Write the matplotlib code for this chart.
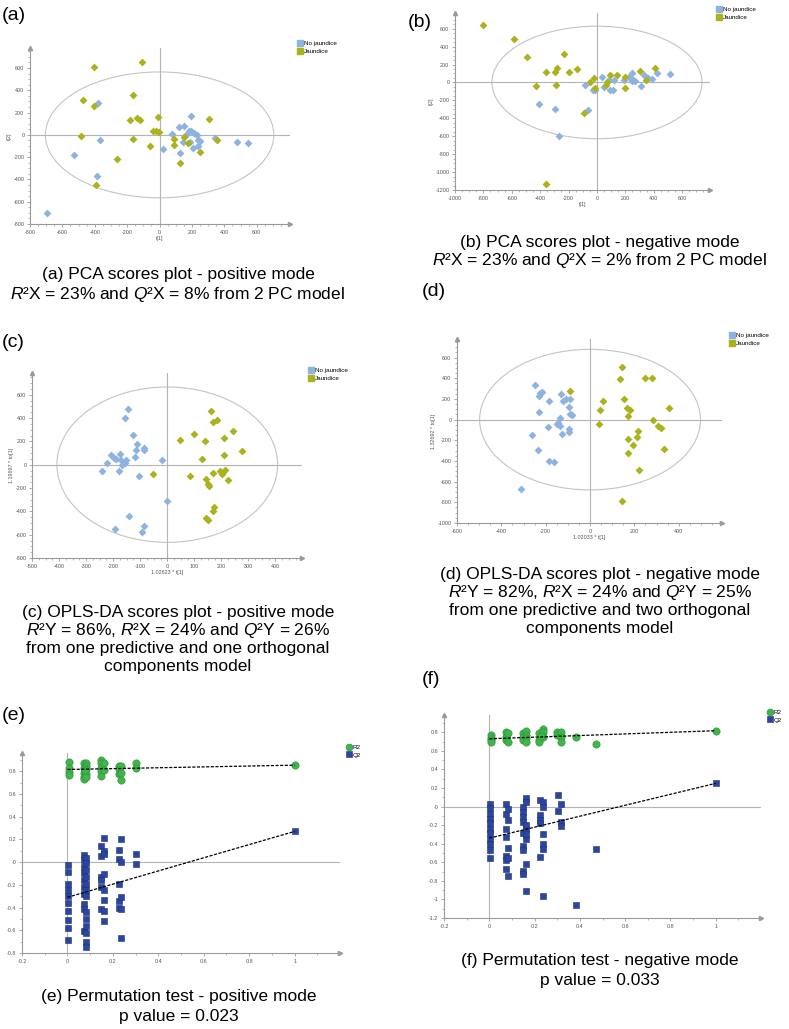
import numpy as np
import matplotlib
matplotlib.use("Agg")
import matplotlib.pyplot as plt
from matplotlib.patches import Ellipse
from matplotlib.lines import Line2D
from matplotlib.ticker import AutoMinorLocator, FuncFormatter

plt.rcParams['font.family'] = ['Liberation Sans', 'DejaVu Sans']
plt.rcParams['mathtext.fontset'] = 'custom'
plt.rcParams['mathtext.rm'] = 'Liberation Sans'
plt.rcParams['mathtext.it'] = 'Liberation Sans:italic'

# ---------------- data ----------------
# (a) PCA positive mode
a_blue_x = [-379, -365, -531, -387, -692, 19, 74, 117, 150, 128, 192, 181, 195, 215, 186, 204, 237, 250, 231, 163, 145, 344, 478, 548, 237]
a_blue_y = [288, -45, -178, -371, -704, -131, 6, 74, 83, -163, 166, 36, 36, 15, -60, -119, -45, -54, 0, 0, -60, -24, -65, -77, -104]
a_jau_x = [-406, -111, -470, -402, -165, -185, -140, -124, -10, -488, -165, -43, -25, -6, -60, -264, -391, 89, 91, 126, 148, 247, 307, 356, 177]
a_jau_y = [612, 656, 315, 258, 359, 134, 149, 134, 157, -9, -39, 36, 36, 27, -101, -220, -454, -36, -92, -252, -18, -151, 146, -45, -74]

# (b) PCA negative mode
b_blue_x = [-410, -297, -269, -63, -87, -30, -12, 35, 47, 94, 112, 117, 187, 246, 257, 269, 311, 328, 356, 391, 421, 515, 250, 222, 82]
b_blue_y = [-235, -291, -592, -305, -30, -89, -82, 60, -52, -89, -89, 30, 30, 104, 30, 11, -37, 86, 48, 37, 104, 97, 11, 60, 30]
b_jau_x = [-803, -585, -491, -234, -281, -297, -356, -199, -138, -431, -290, -358, -91, -51, -21, -12, 68, 94, 140, 199, 194, 304, 346, 410, 63]
b_jau_y = [637, 488, 279, 313, 160, 112, 112, 115, 149, -45, -30, -1132, -343, 0, 45, -63, 0, 86, 86, -63, 60, 123, 30, 156, -26]

# (c) OPLS-DA positive mode
c_blue_x = [-147, -157, -128, -111, -115, -85, -85, -120, -19, -209, -173, -190, -172, -151, -157, -169, -221, -240, -179, -104, -2, -143, -194, -86, -95, -196]
c_blue_y = [474, 400, 254, 177, 129, 123, 143, 63, 43, 86, 94, 51, 37, 37, 14, 0, 14, -51, -57, -100, -314, -437, -549, -529, -577, 57]
c_jau_x = [-52, 47, 100, 138, 127, 84, 162, 168, 185, 242, 211, 278, 210, 168, 212, 201, 226, 143, 149, 156, 174, 170, 143, 151, 195]
c_jau_y = [-80, 214, 260, 206, 49, -94, 463, 363, 380, 291, 229, 117, 83, -71, -43, -80, -129, -123, -163, -186, -363, -394, -460, -471, -57]

# (d) OPLS-DA negative mode
d_blue_x = [-250, -225, -218, -231, -187, -231, -133, -122, -110, -92, -95, -89, -80, -134, -145, -137, -127, -97, -95, -190, -263, -235, -187, -163, -311, -149]
d_blue_y = [332, 258, 271, 232, 184, 71, 252, 177, 200, 200, 123, 58, 48, 16, -32, -65, -135, -90, -123, -74, -148, -290, -397, -413, -671, -45]
d_jau_x = [-92, 145, 134, 250, 281, 59, 47, 41, 154, 166, 180, 169, 356, 284, 308, 318, 217, 213, 172, 195, 172, 335, 222, 145]
d_jau_y = [281, 510, 394, 403, 403, 177, 90, -42, 200, 113, 97, 39, 113, -6, -65, -81, -113, -171, -184, -242, -323, -281, -484, -790]

# (e) permutation test, positive mode
e_r2_x = [0.006, 0.006, 0.006, 0.006, 0.072, 0.072, 0.072, 0.072, 0.072, 0.082, 0.082, 0.082, 0.082, 0.082, 0.076,
          0.148, 0.148, 0.148, 0.148, 0.148, 0.163, 0.163, 0.226, 0.226, 0.226, 0.238, 0.238, 0.238, 0.302, 0.302, 1.0]
e_r2_y = [0.88, 0.83, 0.79, 0.77, 0.87, 0.83, 0.785, 0.75, 0.73, 0.87, 0.845, 0.815, 0.775, 0.745, 0.81,
          0.90, 0.87, 0.83, 0.80, 0.755, 0.87, 0.81, 0.845, 0.815, 0.775, 0.845, 0.72, 0.785, 0.87, 0.83, 0.853]
e_q2_x = [0.004] * 10 + [0.072] * 10 + [0.082] * 13 + [0.148] * 6 + [0.163] * 8 + [0.226] * 5 + [0.238] * 5 + [0.302] * 2 + [1.0]
e_q2_y = [-0.03, -0.09, -0.19, -0.25, -0.30, -0.36, -0.43, -0.51, -0.58, -0.69,
          0.065, 0.02, -0.04, -0.10, -0.16, -0.22, -0.28, -0.37, -0.41, -0.61,
          0.035, -0.01, -0.07, -0.13, -0.19, -0.25, -0.30, -0.44, -0.50, -0.56, -0.62, -0.70, -0.75,
          0.145, 0.055, -0.13, -0.16, -0.22, -0.41,
          0.215, 0.10, 0.07, -0.105, -0.25, -0.33, -0.43, -0.52,
          0.11, 0.025, -0.19, -0.34, -0.40,
          0.20, 0.0, -0.31, -0.41, -0.67,
          0.07, -0.02,
          0.27]
e_r2_line = [0.815, 0.853]   # intercepts at x = 0 and x = 1
e_q2_line = [-0.31, 0.27]

# (f) permutation test, negative mode
f_r2_x = [0.006] * 4 + [0.072] * 3 + [0.081] * 2 + [0.147] * 3 + [0.16] * 4 + [0.22] * 3 + [0.238] * 3 + [0.227] + [0.30] * 2 + [0.316] * 3 + [0.381, 0.47, 1.0]
f_r2_y = [0.77, 0.74, 0.715, 0.70, 0.80, 0.75, 0.715, 0.79, 0.70, 0.79, 0.75, 0.715, 0.81, 0.77, 0.735, 0.70,
          0.79, 0.715, 0.69, 0.84, 0.805, 0.75, 0.76, 0.805, 0.77, 0.80, 0.75, 0.70, 0.745, 0.676, 0.817]
f_q2_x = [0.004] * 11 + [0.072] * 7 + [0.081] * 5 + [0.147] * 9 + [0.16] * 8 + [0.225] * 5 + [0.236] * 6 + [0.302] * 2 + [0.316] * 3 + [0.381, 0.47, 1.0]
f_q2_y = [0.03, -0.02, -0.08, -0.13, -0.18, -0.24, -0.29, -0.35, -0.40, -0.47, -0.55,
          0.03, -0.08, -0.24, -0.33, -0.53, -0.58, -0.67,
          -0.03, -0.15, -0.45, -0.55, -0.75,
          0.0, -0.06, -0.11, -0.17, -0.29, -0.42, -0.47, -0.69, -0.73,
          0.09, 0.05, -0.24, -0.35, -0.62, -0.91, -0.20, -0.30,
          0.07, -0.09, -0.15, -0.18, -0.54,
          0.05, 0.0, -0.30, -0.40, -0.46, -0.96,
          0.12, -0.05,
          0.03, -0.17, -0.21,
          -1.06, -0.46, 0.25]
f_r2_line = [0.73, 0.817]
f_q2_line = [-0.34, 0.25]

# ---------------- styling ----------------
W, H = 789, 1029
BLUE = '#8fb3e0'
OLIVE = '#aab21c'
GREEN = '#3fb54c'
NAVY = '#2c46a0'
AXCOL = '#9a9a9a'
TICKCOL = '#555555'

fig = plt.figure(figsize=(W / 100, H / 100), dpi=100)


def px(l, t, r, b):
    return [l / W, 1 - b / H, (r - l) / W, (b - t) / H]


def style_axes(ax, xticks, yticks, nminor):
    for s in ['top', 'right']:
        ax.spines[s].set_visible(False)
    for s in ['left', 'bottom']:
        ax.spines[s].set_color(AXCOL)
        ax.spines[s].set_linewidth(0.8)
    ax.set_xticks(xticks)
    ax.set_yticks(yticks)
    fmt = FuncFormatter(lambda v, p: f"{v:g}")
    ax.xaxis.set_major_formatter(fmt)
    ax.yaxis.set_major_formatter(fmt)
    ax.xaxis.set_minor_locator(AutoMinorLocator(nminor))
    ax.yaxis.set_minor_locator(AutoMinorLocator(nminor))
    ax.tick_params(which='major', length=2.5, width=0.6, color=AXCOL, labelsize=3.9,
                   labelcolor=TICKCOL, pad=1.5)
    ax.tick_params(which='minor', length=1.3, width=0.5, color=AXCOL)
    # arrow heads at the ends of the axes
    ax.plot(1, 0, '>', ms=3, color=AXCOL, transform=ax.transAxes, clip_on=False)
    ax.plot(0, 1, '^', ms=3, color=AXCOL, transform=ax.transAxes, clip_on=False)
    ax.patch.set_alpha(0)


def scores_panel(rect, bx, by, jx, jy, xlim, ylim, xticks, yticks, ell, xlab, ylab, leg):
    ax = fig.add_axes(px(*rect))
    ax.add_patch(Ellipse((0, 0), 2 * ell[0], 2 * ell[1], fill=False, ec='#c4c4c4', lw=0.8))
    ax.axhline(0, color='#b4b4b4', lw=0.8, zorder=1)
    ax.axvline(0, color='#b4b4b4', lw=0.8, zorder=1)
    ax.scatter(bx, by, marker='D', s=16, color=BLUE, lw=0, zorder=3)
    ax.scatter(jx, jy, marker='D', s=16, color=OLIVE, lw=0, zorder=3)
    ax.set_xlim(*xlim)
    ax.set_ylim(*ylim)
    style_axes(ax, xticks, yticks, 4)
    ax.set_xlabel(xlab, fontsize=3.9, color=TICKCOL, labelpad=1)
    ax.set_ylabel(ylab, fontsize=3.9, color=TICKCOL, labelpad=1)
    handles = [Line2D([], [], marker='s', ls='', ms=4, color=BLUE, label='No jaundice'),
               Line2D([], [], marker='s', ls='', ms=4, color=OLIVE, label='Jaundice')]
    ax.legend(handles=handles, loc='upper left', bbox_to_anchor=(leg[0] / W, 1 - leg[1] / H),
              bbox_transform=fig.transFigure, frameon=False, fontsize=4.5, handlelength=0.8,
              handletextpad=0.3, labelspacing=0.35, borderpad=0, borderaxespad=0)
    return ax


def perm_panel(rect, r2x, r2y, q2x, q2y, r2line, q2line, ylim, yticks, leg):
    ax = fig.add_axes(px(*rect))
    ax.axhline(0, color='#b4b4b4', lw=0.8, zorder=1)
    ax.axvline(0, color='#b4b4b4', lw=0.8, zorder=1)
    ax.scatter(r2x, r2y, marker='o', s=28, color=GREEN, edgecolors='#2f8f3b', lw=0.4, zorder=3)
    ax.scatter(q2x, q2y, marker='s', s=22, color=NAVY, edgecolors='#1c2f78', lw=0.4, zorder=3)
    ax.plot([0, 1], r2line, ls='--', color='black', lw=0.9, dashes=(2.5, 1.2), zorder=4)
    ax.plot([0, 1], q2line, ls='--', color='black', lw=0.9, dashes=(2.5, 1.2), zorder=4)
    ax.set_xlim(-0.2, 1.2)
    ax.set_ylim(*ylim)
    style_axes(ax, np.arange(-0.2, 1.01, 0.2).round(1), yticks, 2)
    handles = [Line2D([], [], marker='o', ls='', ms=5, color=GREEN, mec='#2f8f3b', mew=0.4, label='R2'),
               Line2D([], [], marker='s', ls='', ms=4.5, color=NAVY, mec='#1c2f78', mew=0.4, label='Q2')]
    ax.legend(handles=handles, loc='upper left', bbox_to_anchor=(leg[0] / W, 1 - leg[1] / H),
              bbox_transform=fig.transFigure, frameon=False, fontsize=4.5, handlelength=0.8,
              handletextpad=0.3, labelspacing=0.3, borderpad=0, borderaxespad=0)
    return ax


# ---------------- panels ----------------
scores_panel((30, 48, 290, 224), a_blue_x, a_blue_y, a_jau_x, a_jau_y,
             (-800, 805), (-800, 780), np.arange(-800, 601, 200), np.arange(-800, 601, 200),
             (705, 565), 't[1]', 't[2]', (297, 41))
scores_panel((455, 13, 710, 190), b_blue_x, b_blue_y, b_jau_x, b_jau_y,
             (-1000, 796), (-1200, 775), np.arange(-1000, 601, 200), np.arange(-1200, 601, 200),
             (740, 628), 't[1]', 't[2]', (716, 7))
scores_panel((32, 373, 302, 558), c_blue_x, c_blue_y, c_jau_x, c_jau_y,
             (-500, 498), (-800, 786), np.arange(-500, 401, 100), np.arange(-800, 601, 200),
             (408, 666), '1.02823 * t[1]', '1.19697 * to[1]', (308, 368))
scores_panel((457, 339, 722, 523), d_blue_x, d_blue_y, d_jau_x, d_jau_y,
             (-600, 595), (-1000, 780), np.arange(-600, 401, 200), np.arange(-1000, 601, 200),
             (498, 680), '1.02033 * t[1]', '1.32692 * to[1]', (729, 333))

perm_panel((22, 753, 340, 953), e_r2_x, e_r2_y, e_q2_x, e_q2_y, e_r2_line, e_q2_line,
           (-0.8, 0.96), np.arange(-0.8, 0.81, 0.2).round(1), (346, 745))
perm_panel((444, 715, 761, 918), f_r2_x, f_r2_y, f_q2_x, f_q2_y, f_r2_line, f_q2_line,
           (-1.2, 0.986), np.arange(-1.2, 0.81, 0.2).round(1), (767, 710))

# ---------------- panel letters and captions ----------------
letters = [('(a)', 2, 15), ('(b)', 408, 22), ('(c)', 2, 343), ('(d)', 422, 291), ('(e)', 2, 716), ('(f)', 422, 679)]
for txt, x, y in letters:
    fig.text(x / W, 1 - y / H, txt, fontsize=14, ha='left', va='center')

captions = [
    (178, [275, 295], ['(a) PCA scores plot - positive mode',
                       r'$R$²X = 23% and $Q$²X = 8% from 2 PC model']),
    (600, [243, 261], ['(b) PCA scores plot - negative mode',
                       r'$R$²X = 23% and $Q$²X = 2% from 2 PC model']),
    (178, [612, 631, 649, 667], ['(c) OPLS-DA scores plot - positive mode',
                                 r'$R$²Y = 86%, $R$²X = 24% and $Q$²Y = 26%',
                                 'from one predictive and one orthogonal',
                                 'components model']),
    (600, [575, 593, 611, 629], ['(d) OPLS-DA scores plot - negative mode',
                                 r'$R$²Y = 82%, $R$²X = 24% and $Q$²Y = 25%',
                                 'from one predictive and two orthogonal',
                                 'components model']),
    (179, [997, 1017], ['(e) Permutation test - positive mode', 'p value = 0.023']),
    (600, [961, 980], ['(f) Permutation test - negative mode', 'p value = 0.033']),
]
for cx, ys, lines in captions:
    for y, line in zip(ys, lines):
        fig.text(cx / W, 1 - y / H, line, fontsize=12.5, ha='center', va='center')

fig.savefig('out.png', dpi=100)
